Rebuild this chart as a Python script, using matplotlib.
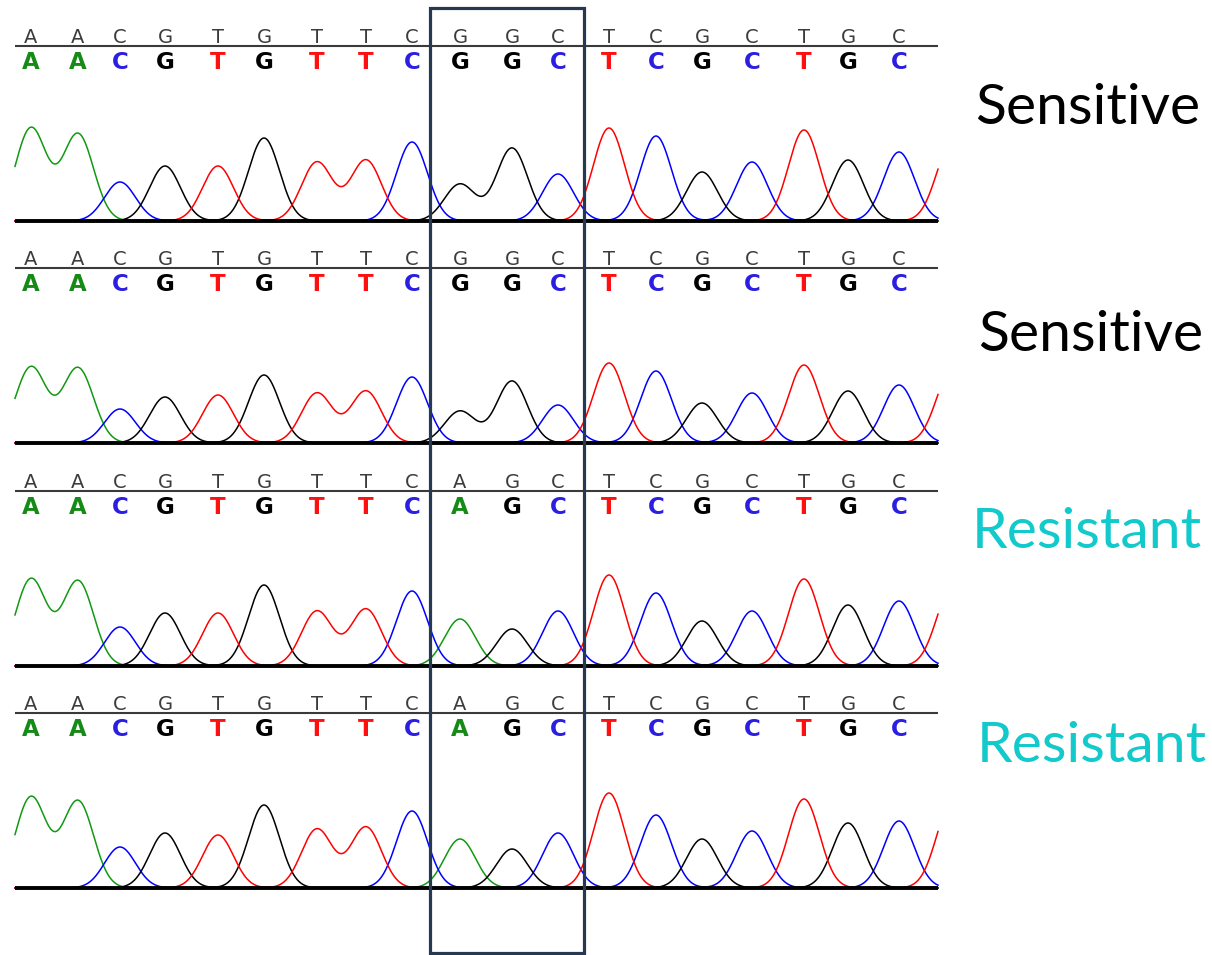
import numpy as np
import matplotlib
matplotlib.use("Agg")
import matplotlib.pyplot as plt
from matplotlib.patches import Rectangle

# called bases (same read for top and bold rows)
bases_sensitive = list("AACGTGTTCGGCTCGCTGC")
bases_resistant = list("AACGTGTTCAGCTCGCTGC")

# peak centres along the trace (scan units)
peak_pos = [31, 78, 120, 165, 218, 264, 317, 366, 412, 460, 512, 558,
            609, 656, 702, 752, 804, 848, 899]

# peak heights per sample, one per base call
heights_s1 = [93, 87, 39, 55, 55, 83, 59, 61, 79, 37, 73, 47, 93, 85, 49, 59, 91, 61, 69]
heights_s2 = [76, 75, 34, 46, 48, 68, 50, 52, 66, 32, 62, 38, 80, 72, 40, 50, 78, 52, 58]
heights_r1 = [87, 85, 39, 53, 53, 81, 55, 57, 75, 47, 37, 55, 91, 73, 45, 55, 87, 61, 65]
heights_r2 = [91, 87, 41, 55, 53, 83, 59, 61, 77, 49, 39, 55, 95, 73, 49, 57, 89, 65, 67]

# next (off-screen) T peak that starts at the right edge
edge_pos = 952
edge_heights = [78, 73, 78, 85]

labels = ["Sensitive", "Sensitive", "Resistant", "Resistant"]

trace_colors = {"A": "#119911", "C": "#0000ff", "G": "#000000", "T": "#ff0000"}
call_colors = {"A": "#168a16", "C": "#2a1ee0", "G": "#000000", "T": "#ff1010"}

W, H = 1212, 955
fig = plt.figure(figsize=(W / 100, H / 100), dpi=100)

panels = [
    (bases_sensitive, heights_s1, edge_heights[0], 221),
    (bases_sensitive, heights_s2, edge_heights[1], 443),
    (bases_resistant, heights_r1, edge_heights[2], 666),
    (bases_resistant, heights_r2, edge_heights[3], 888),
]
label_info = [(975, 124, "black"), (978, 351, "black"),
              (972, 548, "#12c9cc"), (977, 762, "#12c9cc")]

x0, x1 = 15, 938
top = 215
sigma = 15.5
xs = np.linspace(x0, x1, 2000)

for (bases, heights, edge_h, yb), lab, (lx, ly, lc) in zip(panels, labels, label_info):
    ax = fig.add_axes([x0 / W, 1 - yb / H, (x1 - x0) / W, top / H])
    ax.set_xlim(x0, x1)
    ax.set_ylim(0, top)
    ax.axis("off")

    for ch in "ACGT":
        y = np.zeros_like(xs)
        for b, p, h in zip(bases, peak_pos, heights):
            if b == ch:
                y += h * np.exp(-(xs - p) ** 2 / (2 * sigma ** 2))
        if ch == "T":
            y += edge_h * np.exp(-(xs - edge_pos) ** 2 / (2 * sigma ** 2))
        ax.plot(xs, y, color=trace_colors[ch], lw=1.1, zorder=2, clip_on=False)

    ax.plot([x0, x1], [0, 0], color="black", lw=2.8, zorder=3,
            solid_capstyle="butt", clip_on=False)
    ax.plot([x0, x1], [175, 175], color="#3a3a3a", lw=1.5, zorder=3,
            solid_capstyle="butt", clip_on=False)

    for b, p in zip(bases, peak_pos):
        ax.text(p, 178, b, ha="center", va="baseline", fontsize=14,
                color="#3c3c3c", family="DejaVu Sans")
        ax.text(p, 152, b, ha="center", va="baseline", fontsize=16.5,
                fontweight="bold", color=call_colors[b],
                family=["Liberation Sans Narrow", "DejaVu Sans"])

    fig.text(lx / W, 1 - ly / H, lab, ha="left", va="baseline",
             fontsize=41, color=lc, family="Lato")

# box around the codon of interest
fig.patches.append(Rectangle((430 / W, 1 - 953 / H), (584 - 430) / W, (953 - 8) / H,
                             transform=fig.transFigure, fill=False,
                             edgecolor="#253a52", lw=2.3, zorder=10))

fig.savefig("out.png", dpi=100, facecolor="white")
